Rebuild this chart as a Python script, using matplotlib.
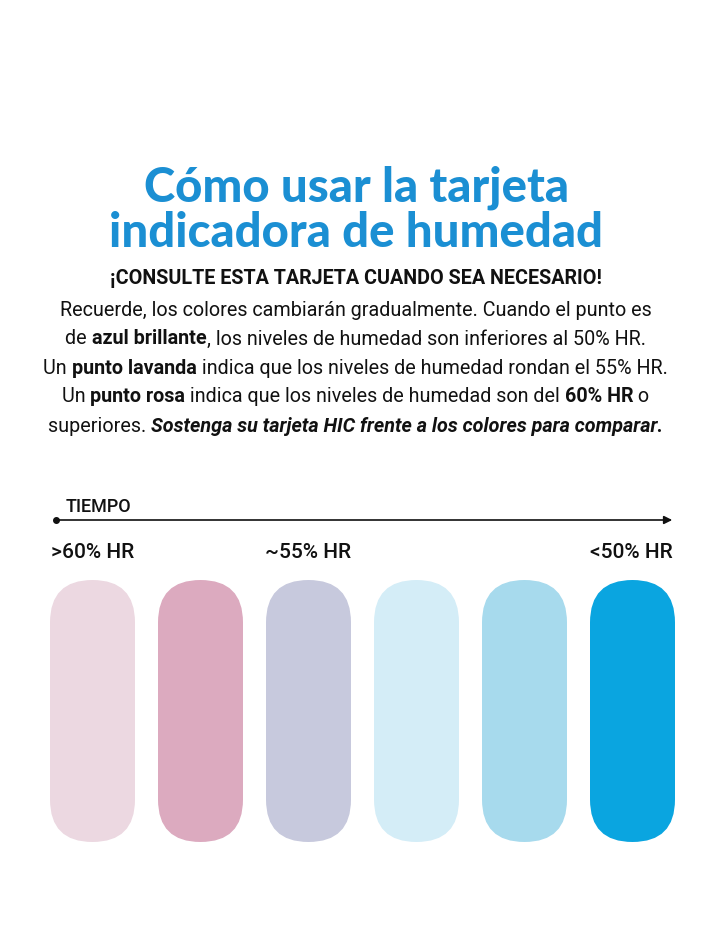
import matplotlib
matplotlib.use("Agg")
import matplotlib.pyplot as plt
from matplotlib.patches import FancyBboxPatch
from matplotlib import font_manager as fm

labels = [">60% HR", "", "~55% HR", "", "", "<50% HR"]
colors = ["#ecd8e1", "#dcaabf", "#c7c9dd", "#d4edf7", "#a7daed", "#0aa5e0"]
positions = [0, 1, 2, 3, 4, 5]

W, H = 711, 948
fig = plt.figure(figsize=(W/100, H/100), dpi=100)
ax = fig.add_axes([0, 0, 1, 1])
ax.set_xlim(0, W); ax.set_ylim(H, 0); ax.axis("off")

fams = [f.name for f in fm.fontManager.ttflist]
narrow = "Liberation Sans Narrow" if "Liberation Sans Narrow" in fams else "Roboto"
fs = 15.5 if narrow != "Roboto" else 14.2

blue = "#1b8fd3"
ax.text(356, 188, "Cómo usar la tarjeta", ha="center", va="center", fontsize=34,
        family="Lato", weight="black", color=blue)
ax.text(356, 233, "indicadora de humedad", ha="center", va="center", fontsize=34,
        family="Lato", weight="black", color=blue)
ax.text(356, 279, "¡CONSULTE ESTA TARJETA CUANDO SEA NECESARIO!", ha="center", va="center",
        fontsize=fs, family=narrow, weight="bold", color="#111")

lines = [
    [("Recuerde, los colores cambiarán gradualmente. Cuando el punto es", "normal", "normal")],
    [("de ", "normal", "normal"), ("azul brillante", "bold", "normal"),
     (", los niveles de humedad son inferiores al 50% HR.", "normal", "normal")],
    [("Un ", "normal", "normal"), ("punto lavanda", "bold", "normal"),
     (" indica que los niveles de humedad rondan el 55% HR.", "normal", "normal")],
    [("Un ", "normal", "normal"), ("punto rosa", "bold", "normal"),
     (" indica que los niveles de humedad son del ", "normal", "normal"),
     ("60% HR", "bold", "normal"), (" o", "normal", "normal")],
    [("superiores. ", "normal", "normal"),
     ("Sostenga su tarjeta HIC frente a los colores para comparar.", "bold", "italic")],
]
fig.canvas.draw()
r = fig.canvas.get_renderer()
for i, segs in enumerate(lines):
    y = 310 + i * 29
    arts = []
    for s, w, st in segs:
        t = ax.text(0, y, s, ha="left", va="center", fontsize=fs, family=narrow,
                    weight=w, style=st, color="#111")
        arts.append(t)
    widths = [t.get_window_extent(r).width for t in arts]
    total = sum(widths)
    x = W/2 - total/2
    for t, w in zip(arts, widths):
        t.set_x(x); x += w

# timeline
ax.annotate("", xy=(675, 520), xytext=(56, 520),
            arrowprops=dict(arrowstyle="-|>", color="#111", lw=1.2, mutation_scale=12))
ax.plot([56], [520], "o", color="#111", ms=4)
ax.text(66, 507, "TIEMPO", ha="left", va="center", fontsize=13, family=narrow,
        weight="medium", color="#111")

pw, x0, step = 85, 50, 108
for p, lab, c in zip(positions, labels, colors):
    x = x0 + p * step
    ax.add_patch(FancyBboxPatch((x, 580), pw, 262, boxstyle="round,pad=0,rounding_size=42.5",
                                fc=c, ec="none"))
    if lab:
        ha = "center"
        cx = x + pw/2
        if p == 0:
            ha, cx = "left", x + 1
        if p == 5:
            ha, cx = "right", x + pw - 2
        ax.text(cx, 552, lab, ha=ha, va="center", fontsize=15, family=narrow,
                weight="medium", color="#111")

fig.savefig("out.png", dpi=100, facecolor="white")
